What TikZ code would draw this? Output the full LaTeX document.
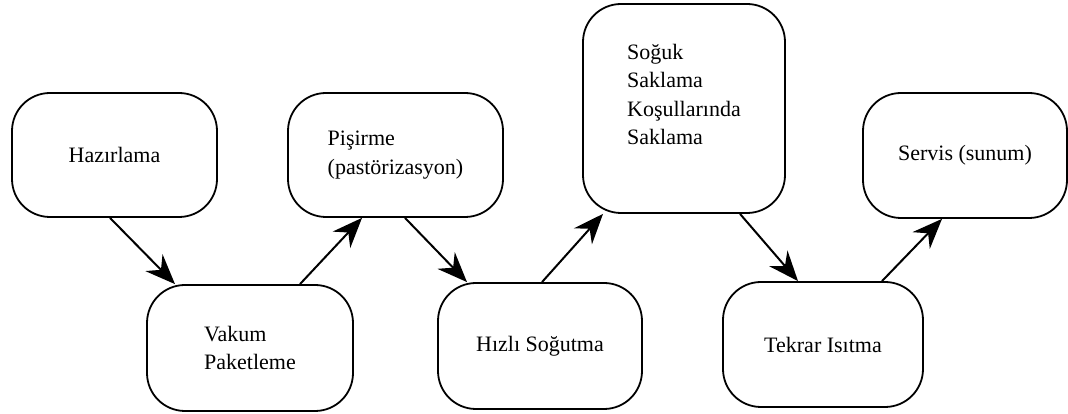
\documentclass[tikz,border=0pt]{standalone}
\usepackage{fontspec}
\setmainfont{Liberation Serif}
\usetikzlibrary{arrows.meta,calc}

\begin{document}
\begin{tikzpicture}[x=1pt, y=1pt,
    stepbox/.style={draw, line width=1.8pt, rounded corners=38pt, align=left,
                    font=\fontsize{22}{28.5}\selectfont, inner sep=0pt},
    flow/.style={line width=2pt, -{Stealth[length=30pt, width=24pt, inset=10pt]}}]
  % Define dimensions
  \def\W{1068}
  \def\H{414}
  \useasboundingbox (0,0) rectangle (\W,\H);

  % Draw boxes
  \node[stepbox, minimum width=205, minimum height=124] (hazir) at (114.5,259) {Hazırlama};
  \node[stepbox, minimum width=206, minimum height=126] (vakum) at (250,66) {Vakum\\Paketleme};
  \node[stepbox, minimum width=215, minimum height=124] (pisir) at (395.5,259) {Pişirme\\(pastörizasyon)};
  \node[stepbox, minimum width=204, minimum height=126] (hizli) at (540,68) {Hızlı Soğutma};
  \node[stepbox, minimum width=202, minimum height=209] (soguk) at (684,305.5) {Soğuk\\Saklama\\Koşullarında\\Saklama\\~};
  \node[stepbox, minimum width=200, minimum height=125] (tekrar) at (823,69.5) {Tekrar Isıtma};
  \node[stepbox, minimum width=204, minimum height=125] (servis) at (965,258.5) {Servis (sunum)};

  % Draw arrows
  \foreach \a/\sa/\b/\sb in {hazir.south/-4.5/vakum.north/-75,
                             vakum.north/50/pisir.south/-33.5,
                             pisir.south/9.5/hizli.north/-73,
                             hizli.north/2/soguk.south/-81,
                             soguk.south/56/tekrar.north/-25,
                             tekrar.north/59/servis.south/-23}
      \draw[flow] ([xshift=\sa pt]\a) -- ([xshift=\sb pt]\b);
\end{tikzpicture}
\end{document}
